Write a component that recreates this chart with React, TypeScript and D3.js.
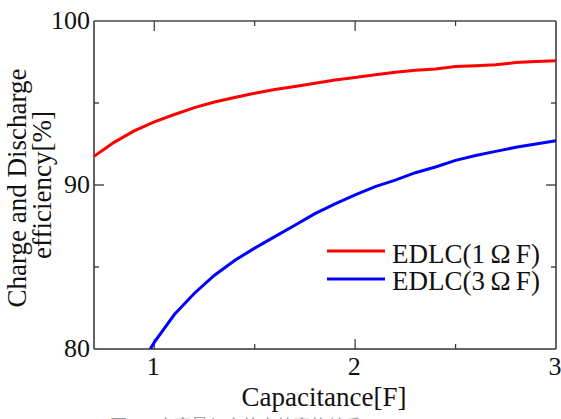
import React from 'react';
import * as d3 from 'd3';

// capacitance [F] and charge/discharge efficiency [%]
const capRed = [0.7, 0.8, 0.9, 1.0, 1.1, 1.2, 1.3, 1.4, 1.5, 1.6, 1.7, 1.8, 1.9, 2.0, 2.1, 2.2, 2.3, 2.4, 2.5, 2.6, 2.7, 2.8, 2.9, 3.0];
const effRed = [91.75, 92.6, 93.3, 93.85, 94.3, 94.72, 95.06, 95.34, 95.6, 95.82, 96.0, 96.2, 96.4, 96.55, 96.72, 96.88, 97.0, 97.08, 97.22, 97.27, 97.33, 97.47, 97.53, 97.58];

const capBlue = [0.98, 1.0, 1.1, 1.2, 1.3, 1.4, 1.5, 1.6, 1.7, 1.8, 1.9, 2.0, 2.1, 2.2, 2.3, 2.4, 2.5, 2.6, 2.7, 2.8, 2.9, 3.0];
const effBlue = [80.0, 80.4, 82.1, 83.4, 84.5, 85.4, 86.15, 86.85, 87.55, 88.25, 88.85, 89.4, 89.9, 90.3, 90.75, 91.1, 91.5, 91.8, 92.05, 92.3, 92.5, 92.7];

const seriesNames = ['EDLC(1\u2009\u03A9\u2009F)', 'EDLC(3\u2009\u03A9\u2009F)'];
const seriesColors = ['#ff0000', '#0000ff'];

const xTickLabels = [1, 2, 3];
const xMinorTicks = [1.5, 2.5];
const yTickLabels = [80, 90, 100];
const yMinorTicks = [85, 95];

const W = 561;
const H = 419;
const left = 94, right = 556, top = 21, bottom = 349;
const serif = "'Liberation Serif', 'Times New Roman', serif";

export default function App() {
  const x = d3.scaleLinear().domain([0.7, 3]).range([left, right]);
  const y = d3.scaleLinear().domain([80, 100]).range([bottom, top]);

  const line = d3.line<[number, number]>()
    .x(d => x(d[0]))
    .y(d => y(d[1]));

  const red = capRed.map((c, i) => [c, effRed[i]] as [number, number]);
  const blue = capBlue.map((c, i) => [c, effBlue[i]] as [number, number]);

  const majorX = xTickLabels.filter(v => v < 3);
  const majorY = yTickLabels.filter(v => v > 80 && v < 100);

  return (
    <svg width={W} height={H} style={{ position: 'absolute', left: 0, top: 0, background: '#fff' }}>
      <defs>
        <clipPath id="plot">
          <rect x={left} y={top - 2} width={right - left} height={bottom - top + 2} />
        </clipPath>
      </defs>

      {/* frame */}
      <line x1={left} y1={top} x2={left} y2={bottom} stroke="#222" strokeWidth={1.4} />
      <line x1={left} y1={bottom} x2={right} y2={bottom} stroke="#333" strokeWidth={1.4} />
      <line x1={left} y1={top} x2={right} y2={top} stroke="#444" strokeWidth={1.4} />
      <line x1={right} y1={top} x2={right} y2={bottom} stroke="#555" strokeWidth={1.8} />

      {/* x ticks, inward on top and bottom */}
      {majorX.map(v => (
        <g key={'mx' + v}>
          <line x1={x(v)} x2={x(v)} y1={bottom} y2={bottom - 10} stroke="#333" strokeWidth={1.2} />
          <line x1={x(v)} x2={x(v)} y1={top} y2={top + 10} stroke="#333" strokeWidth={1.2} />
        </g>
      ))}
      {xMinorTicks.map(v => (
        <g key={'nx' + v}>
          <line x1={x(v)} x2={x(v)} y1={bottom} y2={bottom - 5} stroke="#333" strokeWidth={1.2} />
          <line x1={x(v)} x2={x(v)} y1={top} y2={top + 5} stroke="#333" strokeWidth={1.2} />
        </g>
      ))}

      {/* y ticks, inward on left and right */}
      {majorY.map(v => (
        <g key={'my' + v}>
          <line x1={left} x2={left + 10} y1={y(v)} y2={y(v)} stroke="#222" strokeWidth={1.2} />
          <line x1={right} x2={right - 10} y1={y(v)} y2={y(v)} stroke="#222" strokeWidth={1.2} />
        </g>
      ))}
      {yMinorTicks.map(v => (
        <g key={'ny' + v}>
          <line x1={left} x2={left + 5} y1={y(v)} y2={y(v)} stroke="#222" strokeWidth={1.2} />
          <line x1={right} x2={right - 5} y1={y(v)} y2={y(v)} stroke="#222" strokeWidth={1.2} />
        </g>
      ))}

      {/* tick labels */}
      {yTickLabels.map(v => (
        <text key={'yl' + v} x={left - 4} y={y(v) + 8} textAnchor="end"
          fontFamily={serif} fontSize={26} fill="#111">{v}</text>
      ))}
      {xTickLabels.map(v => (
        <text key={'xl' + v} x={x(v) - 1} y={bottom + 26} textAnchor="middle"
          fontFamily={serif} fontSize={26} fill="#111">{v}</text>
      ))}

      {/* series */}
      <g clipPath="url(#plot)">
        <path d={line(red) || ''} fill="none" stroke={seriesColors[0]} strokeWidth={3} />
        <path d={line(blue) || ''} fill="none" stroke={seriesColors[1]} strokeWidth={3} />
      </g>

      {/* legend */}
      {seriesNames.map((name, i) => (
        <g key={name}>
          <line x1={327} x2={385} y1={251 + i * 28} y2={251 + i * 28} stroke={seriesColors[i]} strokeWidth={3} />
          <text x={392} y={263 + i * 27} fontFamily={serif} fontSize={27} fill="#111">{name}</text>
        </g>
      ))}

      {/* axis titles */}
      <text x={324} y={406} textAnchor="middle" fontFamily={serif} fontSize={27} fill="#111">Capacitance[F]</text>
      <text transform="translate(26,188) rotate(-90)" textAnchor="middle" fontFamily={serif} fontSize={27} fill="#111">Charge and Discharge</text>
      <text transform="translate(51,185) rotate(-90)" textAnchor="middle" fontFamily={serif} fontSize={27} fill="#111">efficiency[%]</text>

      {/* caption, cut off by the page edge */}
      <text x={110} y={432} fontFamily="'Noto Sans CJK SC', sans-serif" fontSize={17} fill="#999">图 4　电容量与充放电效率的关系</text>
    </svg>
  );
}
